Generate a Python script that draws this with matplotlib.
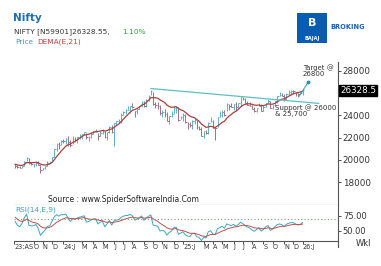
import numpy as np
import pandas as pd
import matplotlib
matplotlib.use('Agg')
import matplotlib.pyplot as plt
from matplotlib.lines import Line2D
from matplotlib.patches import Rectangle

# weekly closes before the first plotted bar (only used to warm up DEMA / RSI)
warmup_close = [18826, 18665, 19189, 19332, 19565, 19745, 19646, 19517]

# weekly bars, Aug 11 2023 -> Jan 2 2026
close = [19428, 19310, 19265, 19435, 19820, 20192, 19674, 19638, 19653, 19751,
         19542, 19047, 19230, 19425, 19732, 19794, 20268, 20969, 21457, 21349,
         21731, 21711, 21894, 21622, 21353, 21854, 21783, 22041, 22213, 22339,
         22493, 22023, 22097, 22327, 22514, 22519, 22147, 22420, 22476, 22055,
         22466, 22957, 22531, 23290, 23466, 23501, 24010, 24324, 24502, 24531,
         24835, 24718, 24367, 24541, 24823, 25236, 24852, 25357, 25791, 26179,
         25015, 24964, 24854, 24181, 24304, 24148, 23533, 23907, 24131, 24678,
         24768, 23588, 23813, 24005, 23432, 23203, 23092, 23508, 23560, 22929,
         22796, 22125, 22553, 22397, 23350, 23519, 22904, 22829, 23852, 24039,
         24347, 24008, 25020, 24853, 24751, 25003, 24719, 25112, 25637, 25461,
         25150, 24968, 24837, 24565, 24363, 24631, 24870, 24427, 24741, 25114,
         25327, 24655, 24894, 25285, 25710, 25795, 25722, 25492, 25910, 26068,
         26203, 26186, 26047, 25966, 26042, 26329]
high = [19645, 19540, 19460, 19460, 19868, 20222, 20155, 19800, 19660, 19850,
        19850, 19520, 19275, 19450, 19875, 19875, 20290, 21005, 21490, 21593,
        21801, 21834, 21928, 22124, 21750, 22127, 22054, 22070, 22297, 22353,
        22526, 22446, 22180, 22516, 22619, 22775, 22430, 22625, 22795, 22588,
        22502, 23026, 23111, 23339, 23490, 23667, 24174, 24401, 24592, 24854,
        24861, 25078, 24382, 24563, 24868, 25268, 25333, 25434, 25849, 26277,
        26135, 25234, 25212, 24978, 24498, 24537, 24336, 23956, 24354, 24857,
        24792, 24781, 23939, 24226, 24089, 23391, 23426, 23546, 23807, 23568,
        23049, 22922, 22634, 22677, 23403, 23870, 23565, 22923, 23872, 24365,
        24457, 24526, 25116, 25071, 25079, 25029, 25223, 25137, 25655, 25669,
        25548, 25255, 25242, 24956, 24734, 24674, 25154, 25021, 24980, 25139,
        25449, 25331, 24954, 25330, 25781, 26104, 26041, 25953, 26011, 26246,
        26310, 26325, 26105, 26052, 26236, 26340]
low = [19296, 19255, 19230, 19225, 19430, 19865, 19635, 19490, 19333, 19480,
       19520, 18837, 19065, 19210, 19430, 19670, 19800, 20290, 20770, 20977,
       21330, 21500, 21450, 21285, 21137, 21430, 21630, 21530, 21875, 21860,
       22225, 21905, 21710, 22005, 22305, 22500, 21777, 22180, 22348, 21932,
       21821, 22404, 22417, 21281, 23170, 23350, 23350, 23992, 24141, 24508,
       24210, 24686, 23894, 24100, 24540, 24800, 24800, 24753, 25285, 25810,
       24966, 24694, 24567, 24074, 23894, 23816, 23509, 23263, 23873, 24140,
       24180, 23537, 23647, 23460, 23345, 22787, 22977, 22786, 23263, 22774,
       22725, 22105, 21965, 22314, 22353, 23412, 22857, 21744, 22996, 23847,
       23899, 23936, 24378, 24462, 24714, 24526, 24473, 24784, 24825, 25378,
       25130, 24918, 24806, 24535, 24337, 24345, 24852, 24404, 24432, 24751,
       25085, 24629, 24587, 24877, 25153, 25718, 25711, 25318, 25449, 25841,
       25843, 25938, 25728, 25694, 25920, 25878]

month_ticks = [-0.5, 8, 12, 16, 21, 29, 34, 38, 43, 47, 51, 56, 60, 64, 69,
               73, 82, 86, 90, 95, 99, 103, 108, 112, 117, 121, 125]
month_labels = ['23:AS', 'O', 'N', 'D', '24:J', 'M', 'A', 'M', 'J', 'J', 'A', 'S', 'O', 'N', 'D',
                '25:J', 'M', 'A', 'M', 'J', 'J', 'A', 'S', 'O', 'N', 'D', '26:J']

price_ticks = [18000, 20000, 22000, 24000, 28000]
rsi_ticks = [50, 75]

# trendline from Sep-24 top, and the target arrow
trend_x = [59, 132]
trend_y = [26420, 25080]
arrow_x = [123.5, 127.5]
arrow_y = [25730, 27000]

last_price = '26328.5'

# ---- indicators
allc = pd.Series(warmup_close + close, dtype=float)
e1 = allc.ewm(span=21).mean()
e2 = e1.ewm(span=21).mean()
dema = (2 * e1 - e2).values[len(warmup_close):]

d = allc.diff()
ag = d.clip(lower=0).ewm(alpha=1/14).mean()
al = (-d.clip(upper=0)).ewm(alpha=1/14).mean()
rsi = 100 - 100 / (1 + ag / al)
sig = rsi.ewm(span=9).mean()
rsi = rsi.values[len(warmup_close):]
sig = sig.values[len(warmup_close):]

x = np.arange(len(close))
prev = [warmup_close[-1]] + close[:-1]
up_col = '#5db0c2'
dn_col = '#9a7386'
cols = [up_col if c >= p else dn_col for c, p in zip(close, prev)]

W, H = 381, 266
fig = plt.figure(figsize=(W / 100, H / 100), dpi=100)

def fx(px):
    return px / W

def fy(py):
    return 1 - py / H

ax = fig.add_axes([fx(14), fy(205), fx(338 - 14), (205 - 62) / H])
ax_r = fig.add_axes([fx(14), fy(241), fx(338 - 14), (241 - 205) / H], sharex=ax)

ax.vlines(x, low, high, colors=cols, lw=0.7)
ax.hlines(close, x, x + 0.7, colors=cols, lw=0.7)
ax.plot(x, dema, color='#a8403c', lw=0.9)
ax.plot(trend_x, trend_y, color='#5cc0c8', lw=0.9)
ax.plot(arrow_x, arrow_y, color='#3aa6c0', lw=0.8)
ax.plot(arrow_x[-1], arrow_y[-1], 'o', color='#2a8fb0', ms=1.8)

ax.set_xlim(-0.5, 140.4)
ax.set_ylim(15930, 28810)
for s in ['top', 'left', 'right']:
    ax.spines[s].set_visible(False)
ax.spines['bottom'].set_color('#555555')
ax.spines['bottom'].set_linewidth(0.8)
ax.yaxis.tick_right()
ax.set_yticks(price_ticks)
ax.set_yticklabels([str(v) for v in price_ticks])
ax.tick_params(axis='y', length=2, width=0.6, pad=1.5, labelsize=6.3, colors='#333333')
ax.tick_params(axis='x', bottom=False, labelbottom=False)

ax.text(125, 28000, 'Target @\n26800', fontsize=5, color='#333333', linespacing=1.0,
        va='center', ha='left')
ax.text(113, 24440, 'Support @ 26000\n& 25,700', fontsize=5, color='#333333',
        linespacing=1.0, va='center', ha='left')

# RSI panel
ax_r.plot(x, rsi, color='#3aa6c4', lw=0.7)
ax_r.plot(x, sig, color='#c0504d', lw=0.7)
ax_r.axhline(70, color='#7a9a7a', lw=0.8, ls=(0, (1, 2)))
ax_r.set_ylim(33.3, 93.3)
for s in ['top', 'left', 'right']:
    ax_r.spines[s].set_visible(False)
ax_r.spines['bottom'].set_color('#555555')
ax_r.spines['bottom'].set_linewidth(0.8)
ax_r.yaxis.tick_right()
ax_r.set_yticks(rsi_ticks)
ax_r.set_yticklabels(['%.2f' % v for v in rsi_ticks])
ax_r.tick_params(axis='y', length=2, width=0.6, pad=1.5, labelsize=6, colors='#333333')
ax_r.set_xticks(month_ticks)
ax_r.set_xticklabels(month_labels, ha='left')
ax_r.tick_params(axis='x', length=2, width=0.6, pad=0.5, labelsize=4.7, colors='#333333')

# right axis line
fig.add_artist(Line2D([fx(338), fx(338)], [fy(62), fy(247)], color='#555555', lw=0.8))

# last price tag
fig.text(fx(340), fy(90.5), last_price, fontsize=6.3, color='white', va='center', ha='left',
         bbox=dict(boxstyle='square,pad=0.15', fc='black', ec='black'))

# header texts
fig.text(fx(13), fy(18), 'Nifty', fontsize=7.5, fontweight='bold', color='#1f6fb2', va='center')
fig.text(fx(14), fy(32), 'NIFTY [N59901]26328.55,', fontsize=5.3, color='#333333', va='center')
fig.text(fx(122), fy(32), '1.10%', fontsize=5.3, color='#3a9a4a', va='center')
fig.text(fx(15), fy(42), 'Price', fontsize=5.3, color='#3aa0c0', va='center')
fig.text(fx(37), fy(42), 'DEMA(E,21)', fontsize=5.3, color='#c0403a', va='center')

# logo
fig.add_artist(Rectangle((fx(297), fy(43)), fx(30), 30 / H, transform=fig.transFigure,
                         fc='#0a5cb0', ec='none'))
fig.text(fx(312), fy(23), 'B', fontsize=8, fontweight='bold', color='white', ha='center', va='center')
fig.text(fx(312), fy(38.5), 'BAJAJ', fontsize=3.6, fontweight='bold', color='white', ha='center', va='center')
fig.text(fx(330), fy(27), 'BROKING', fontsize=4.8, fontweight='bold', color='#1a5fb4', va='center')

fig.text(fx(48), fy(199), 'Source : www.SpiderSoftwareIndia.Com', fontsize=5.5, color='#222222', va='center')
fig.text(fx(15), fy(210), 'RSI(14,E,9)', fontsize=5.3, color='#3aa0c0', va='center')
fig.text(fx(356), fy(244), 'Wkl', fontsize=6, color='#333333', va='center')

fig.savefig('out.png', dpi=100)
